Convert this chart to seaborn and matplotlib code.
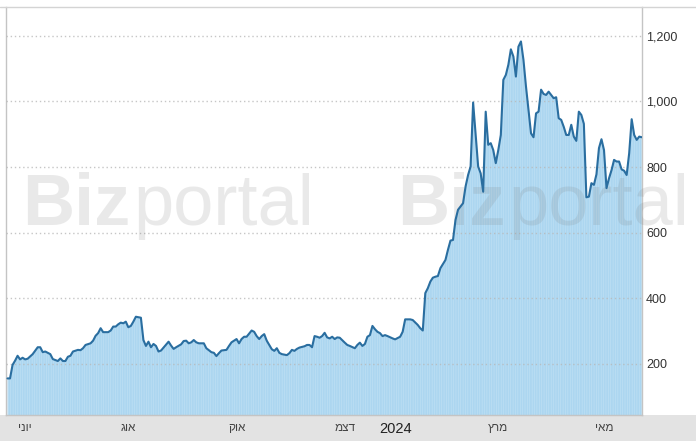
import numpy as np
import pandas as pd
import matplotlib.pyplot as plt
import seaborn as sns
from matplotlib.lines import Line2D
from matplotlib.patches import Rectangle

sns.set_style("white")
plt.rcParams['font.family'] = ['Liberation Sans', 'DejaVu Sans']
plt.rcParams['hatch.linewidth'] = 0.4

# trading sessions counted from 2023-05-22, closing price
session = [0, 1, 2, 3, 4, 5, 6, 7, 8, 10, 12, 13, 14, 15, 17, 18, 20, 21, 22, 23,
           24, 25, 26, 28, 29, 30, 31, 33, 34, 35, 36, 37, 38, 40, 41, 42, 43, 44, 45, 46,
           47, 48, 49, 50, 51, 53, 54, 55, 56, 57, 58, 59, 60, 61, 62, 64, 65, 66, 67, 69,
           70, 71, 72, 73, 74, 75, 76, 78, 79, 81, 82, 83, 84, 85, 87, 88, 89, 91, 92, 93,
           94, 95, 97, 98, 99, 100, 101, 102, 103, 105, 106, 107, 108, 109, 111, 112, 113, 114, 115, 116,
           118, 119, 120, 121, 122, 123, 124, 125, 126, 127, 128, 129, 130, 131, 132, 134, 135, 136, 138, 139,
           140, 141, 142, 143, 144, 145, 146, 147, 148, 149, 150, 151, 153, 154, 156, 157, 158, 160, 161, 163,
           164, 165, 166, 167, 168, 169, 170, 171, 172, 174, 175, 176, 177, 178, 179, 180, 181, 182, 183, 184,
           185, 187, 188, 189, 190, 191, 192, 193, 194, 195, 196, 197, 198, 199, 200, 201, 202, 203, 204, 205,
           206, 207, 208, 209, 210, 211, 212, 213, 214, 215, 217, 218, 219, 220, 221, 222, 223, 224, 225, 226,
           227, 228, 229, 230, 231, 232, 233, 234, 235, 236, 237, 238, 239, 240, 241, 242, 243, 244, 245, 246,
           247, 248, 249, 250, 251, 252]
price = [156, 156, 197, 210, 225, 214, 219, 214, 216, 230, 251, 251, 236, 238, 230, 215, 209, 217, 209, 209,
         222, 225, 238, 243, 242, 248, 258, 263, 271, 286, 294, 309, 297, 297, 302, 314, 314, 321, 326, 324,
         329, 312, 316, 329, 344, 341, 273, 255, 268, 251, 261, 255, 238, 241, 250, 268, 256, 246, 251, 260,
         270, 271, 263, 266, 273, 266, 263, 263, 248, 236, 234, 224, 233, 241, 243, 255, 266, 276, 263, 276,
         283, 283, 302, 298, 285, 276, 285, 291, 271, 245, 240, 248, 234, 230, 227, 233, 243, 240, 246, 250,
         254, 258, 258, 251, 285, 283, 280, 285, 295, 281, 278, 283, 276, 281, 280, 265, 258, 255, 248, 258,
         265, 255, 261, 283, 288, 316, 306, 298, 294, 285, 288, 285, 278, 275, 283, 298, 336, 336, 334, 319,
         309, 302, 416, 431, 451, 463, 466, 468, 492, 517, 548, 576, 578, 639, 670, 680, 690, 741, 776, 802,
         997, 802, 781, 725, 969, 868, 873, 852, 812, 852, 898, 1066, 1081, 1112, 1159, 1137, 1076, 1167, 1183, 1127,
         1046, 974, 903, 891, 964, 969, 1036, 1023, 1020, 1030, 1010, 1013, 949, 944, 923, 898, 898, 929, 893, 880,
         969, 959, 932, 708, 710, 751, 746, 778, 858, 885, 852, 736, 766, 791, 822, 817, 817, 793, 789, 776,
         842, 946, 898, 883, 893, 891]

start_day = '2023-05-22'
market_holidays = ['2023-05-29', '2023-06-19', '2023-07-04', '2023-09-04', '2023-11-23',
                   '2023-12-25', '2024-01-01', '2024-01-15', '2024-02-19', '2024-03-29']
month_first_days = ['2023-06-01', '2023-08-01', '2023-10-02', '2023-12-01',
                    '2024-01-02', '2024-03-01', '2024-05-01']
month_labels = ['יוני', 'אוג', 'אוק', 'דצמ', '2024', 'מרץ', 'מאי']
y_ticks = [200, 400, 600, 800, 1000, 1200]

df = pd.DataFrame({'session': session, 'price': price})

W, H = 696, 441
fig = plt.figure(figsize=(W / 100, H / 100), dpi=100)
ax = fig.add_axes([6 / W, 26 / H, 636 / W, 408 / H])

# bottom band + top rule
fig.add_artist(Rectangle((0, 0), 1, 26 / H, transform=fig.transFigure,
                         facecolor='#e3e3e3', edgecolor='none', zorder=0))
fig.add_artist(Line2D([0, 1], [(H - 7) / H] * 2, transform=fig.transFigure,
                      color='#d4d4d4', lw=1))

# area + line
ax.fill_between(df['session'], df['price'], 0, facecolor='#acd6f0',
                edgecolor='#c2e2f5', hatch='|' * 7, linewidth=0, zorder=1)
sns.lineplot(data=df, x='session', y='price', ax=ax, color='#2a6ea0',
             linewidth=1.5, zorder=4)

ax.set_xlim(-0.6, 252.1)
ax.set_ylim(44.5, 1288)

# y axis on the right
ax.yaxis.tick_right()
ax.set_yticks(y_ticks)
ax.set_yticklabels([f'{v:,}' for v in y_ticks])
ax.tick_params(axis='y', length=0, pad=3, labelsize=9, labelcolor='#333333')
ax.yaxis.grid(True, linestyle=(0, (1, 2)), color='#b8b8b8', linewidth=1, alpha=0.8)
ax.set_axisbelow(False)

# month ticks at first trading day of each month
tick_pos = np.busday_count(start_day, month_first_days, holidays=market_holidays)
ax.set_xticks(tick_pos)
ax.set_xticklabels([lab if lab.isdigit() else lab[::-1] for lab in month_labels])
ax.tick_params(axis='x', length=0, pad=5, labelsize=8.5, labelcolor='#444444')
for lab in ax.get_xticklabels():
    if lab.get_text().isdigit():
        lab.set_fontsize(10.5)
        lab.set_color('#222222')

ax.set_xlabel('')
ax.set_ylabel('')

for side in ['left', 'right', 'bottom']:
    ax.spines[side].set_color('#c4c4c4')
    ax.spines[side].set_linewidth(1)
ax.spines['top'].set_visible(False)

# Bizportal watermark
fig.canvas.draw()
rend = fig.canvas.get_renderer()
for x0 in [22, 397]:
    t1 = ax.text(x0 / W, (H - 225) / H, 'Biz', transform=fig.transFigure,
                 fontsize=52, fontweight='bold', color='#7a7a7a', alpha=0.16,
                 zorder=3, clip_on=False)
    x1 = t1.get_window_extent(rend).x1
    ax.text((x1 + 3) / W, (H - 225) / H, 'portal', transform=fig.transFigure,
            fontsize=52, color='#7a7a7a', alpha=0.16, zorder=3, clip_on=False)

fig.savefig('out.png', dpi=100)
